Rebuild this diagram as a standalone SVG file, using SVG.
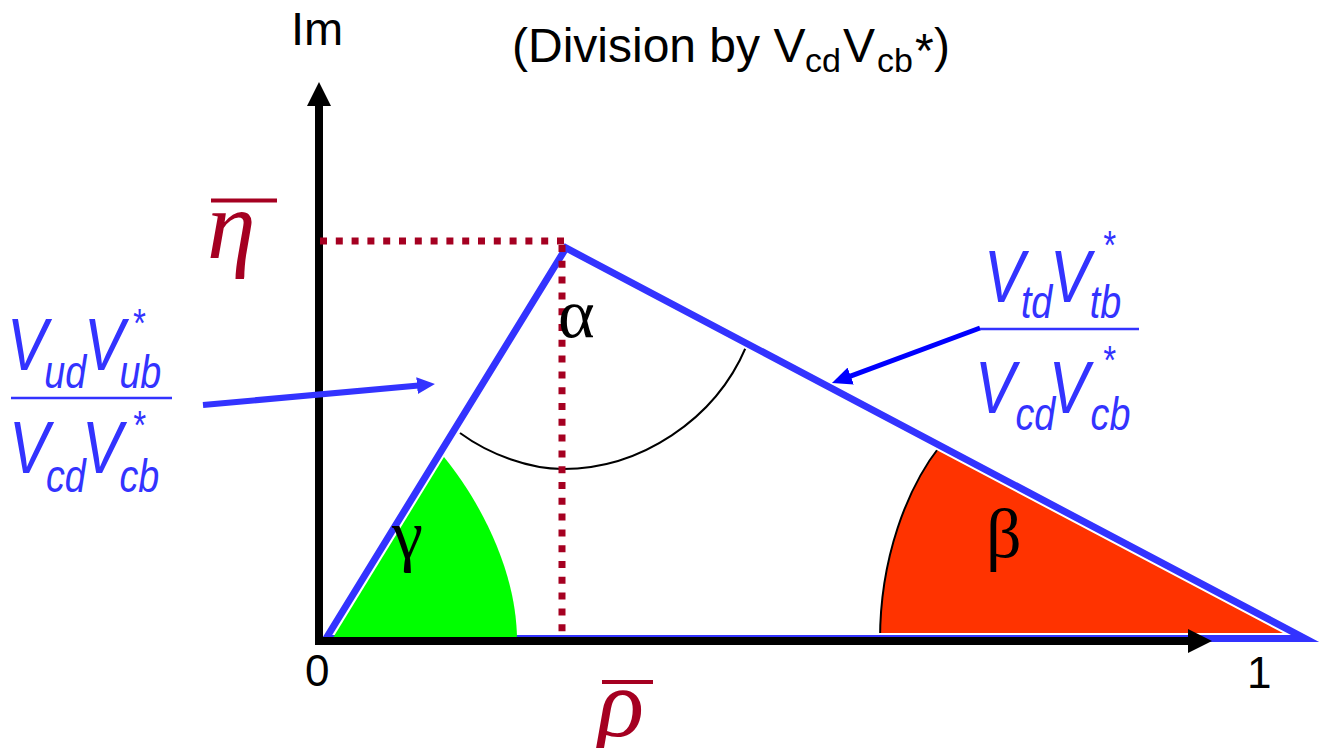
<svg xmlns="http://www.w3.org/2000/svg" width="1320" height="748" viewBox="0 0 1320 748">
<defs>
<style>
.sans{font-family:"Liberation Sans",Arial,sans-serif;fill:#000}
.greek{font-family:"Liberation Serif","Times New Roman",serif;fill:#000}
.frac{font-family:"Liberation Sans",Arial,sans-serif;font-style:italic;fill:#3333FF}
.big{font-size:74px}
.sub{font-size:46px}
.star{font-size:40px}
.dots{stroke:#A50021;stroke-width:7;stroke-dasharray:7 8.8;fill:none}
.mathvar{font-family:"Liberation Serif","Times New Roman",serif;font-style:italic;fill:#A50021;font-size:98px}
.bar{stroke:#A50021;stroke-width:4}
.axis{stroke:#000;stroke-width:8;fill:none}
.fracline{stroke:#3333FF;stroke-width:2.5}
</style>
<marker id="axisHead" markerUnits="userSpaceOnUse" markerWidth="24" markerHeight="24" refX="14" refY="12" orient="auto"><path d="M0,0 L24,12 L0,24 Z" fill="#000"/></marker>
<marker id="headL" markerUnits="userSpaceOnUse" markerWidth="18" markerHeight="17" refX="10" refY="8.5" orient="auto"><path d="M0,0 L18,8.5 L0,17 Z" fill="#3333FF"/></marker>
<marker id="headR" markerUnits="userSpaceOnUse" markerWidth="20" markerHeight="18" refX="11" refY="9" orient="auto"><path d="M0,0 L20,9 L0,18 Z" fill="#0000FF"/></marker>
</defs>
<rect width="1320" height="748" fill="#fff"/>

<g id="beta-wedge">
<path d="M1305,638.5 L940,446 C907,488 880,558 880,640 Z" fill="#FF3300"/>
<path d="M940,446 C907,488 880,558 880,640" fill="none" stroke="#000" stroke-width="2"/>
</g>
<g id="alpha-arc">
<path d="M460,433 C490,455 530,469 563,469 C640,469 715,420 746,347" fill="none" stroke="#000" stroke-width="2"/>
</g>
<g id="triangle">
<polygon points="326,638.5 566,248 1305,638.5" fill="none" stroke="#fff" stroke-width="11" stroke-linejoin="miter" stroke-miterlimit="10"/>
<polygon points="326,638.5 566,248 1305,638.5" fill="none" stroke="#3333FF" stroke-width="7" stroke-linejoin="miter" stroke-miterlimit="10"/>
</g>
<g id="gamma-wedge">
<path d="M331,641 L444,457 C479,500 517,570 517,641 Z" fill="#00FF00"/>
</g>

<g id="axes">
<line class="axis" x1="319" y1="645" x2="319" y2="92" marker-end="url(#axisHead)"/>
<line class="axis" x1="315" y1="641" x2="1202" y2="641" marker-end="url(#axisHead)"/>
</g>

<g id="projections">
<line class="dots" x1="320" y1="241" x2="566" y2="241"/>
<line class="dots" x1="562" y1="245" x2="562" y2="638"/>
</g>

<g id="connectors">
<line x1="203" y1="405" x2="427" y2="384.7" stroke="#3333FF" stroke-width="6" marker-end="url(#headL)"/>
<line x1="980" y1="328" x2="840.4" y2="379.9" stroke="#0000FF" stroke-width="5" marker-end="url(#headR)"/>
</g>

<g id="axis-labels">
<text class="sans" x="291" y="45" font-size="47">Im</text>
<text class="sans" x="305" y="686" font-size="44">0</text>
<text class="sans" x="1247" y="688" font-size="44">1</text>
<text class="sans" font-size="48"><tspan x="512" y="62">(Division by V</tspan><tspan x="805" y="72" font-size="34">cd </tspan><tspan x="843" y="62">V</tspan><tspan x="877" y="72" font-size="34">cb</tspan><tspan x="915" y="67">*</tspan><tspan x="934" y="62">)</tspan></text>
</g>

<g id="eta-label">
<line class="bar" x1="211" y1="200.5" x2="277" y2="200.5"/>
<text class="mathvar" x="207" y="258">η</text>
</g>
<g id="rho-label">
<line class="bar" x1="602" y1="682" x2="653" y2="682"/>
<text class="mathvar" x="597" y="736">ρ</text>
</g>

<g id="angle-labels">
<text class="greek" x="558" y="337" font-size="70">α</text>
<text class="greek" x="392" y="558" font-size="70">γ</text>
<text class="greek" x="986" y="557" font-size="70">β</text>
</g>

<g id="left-fraction">
<text class="frac" transform="scale(0.82,1)"><tspan class="big" x="8.5" y="370">V</tspan><tspan class="sub" x="54.1" y="388">ud</tspan><tspan class="big" x="102.4" y="370">V</tspan><tspan class="sub" x="145.6" y="388">ub</tspan><tspan class="star" x="160.6" y="337">*</tspan></text>
<line class="fracline" x1="11" y1="398" x2="172" y2="398"/>
<text class="frac" transform="scale(0.82,1)"><tspan class="big" x="11" y="473">V</tspan><tspan class="sub" x="56.1" y="492">cd</tspan><tspan class="big" x="100" y="473">V</tspan><tspan class="sub" x="145.7" y="492">cb</tspan><tspan class="star" x="161" y="439">*</tspan></text>
</g>

<g id="right-fraction">
<text class="frac" transform="scale(0.82,1)"><tspan class="big" x="1200" y="302">V</tspan><tspan class="sub" x="1245" y="318">td</tspan><tspan class="big" x="1280.5" y="302">V</tspan><tspan class="sub" x="1329" y="318">tb</tspan><tspan class="star" x="1344" y="259">*</tspan></text>
<line class="fracline" x1="980" y1="329" x2="1139" y2="329"/>
<text class="frac" transform="scale(0.82,1)"><tspan class="big" x="1189" y="413">V</tspan><tspan class="sub" x="1238.4" y="430">cd</tspan><tspan class="big" x="1279" y="413">V</tspan><tspan class="sub" x="1330" y="430">cb</tspan><tspan class="star" x="1344" y="374">*</tspan></text>
</g>
</svg>
